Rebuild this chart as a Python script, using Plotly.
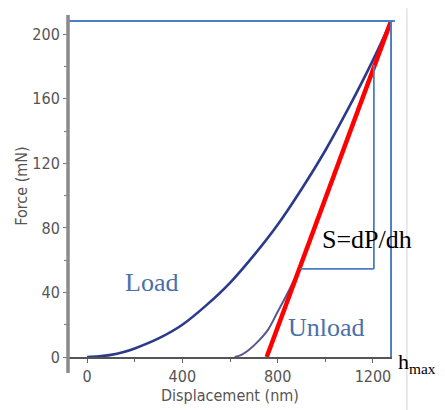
import plotly.graph_objects as go

# Data
load_x = [0, 50, 100, 150, 200, 300, 400, 500, 600, 700, 800, 900, 1000, 1100, 1200, 1276]
load_f = [0, 0.4, 1.3, 2.9, 5.3, 11.5, 20, 32, 46, 63, 82, 104, 128, 155, 184, 208.3]

unload_x = [620, 650, 680, 720, 760, 800, 850, 900, 950, 1000, 1050, 1100, 1150, 1200, 1276]
unload_f = [0, 1.5, 4.5, 10, 17, 28, 42, 58, 78, 98, 118, 138, 159, 179, 208.3]

tangent_x = [754, 1276]
tangent_f = [0, 208.3]

x_ticks = [0, 400, 800, 1200]
y_ticks = [0, 40, 80, 120, 160, 200]

h_max = 1276
p_max = 208.3
tri_x = [895, 1204]
tri_f = [54.6, 181]

FONT = "DejaVu Sans Condensed, DejaVu Sans, sans-serif"
SERIF = "Liberation Serif, Times New Roman, serif"
BOX = "#4a7ec4"

fig = go.Figure()

fig.add_trace(go.Scatter(x=load_x, y=load_f, mode="lines", line=dict(color="#2c3a8c", width=2.6, shape="spline"),
                         hoverinfo="skip", showlegend=False, cliponaxis=False))
fig.add_trace(go.Scatter(x=unload_x, y=unload_f, mode="lines", line=dict(color="#58588e", width=2, shape="spline"),
                         hoverinfo="skip", showlegend=False))
fig.add_trace(go.Scatter(x=tangent_x, y=tangent_f, mode="lines", line=dict(color="#ff0000", width=4.5),
                         hoverinfo="skip", showlegend=False, cliponaxis=False))

shapes = [
    dict(type="line", xref="paper", yref="y", x0=0, x1=1.009, y0=p_max, y1=p_max, line=dict(color=BOX, width=2)),
    dict(type="line", xref="x", yref="y", x0=h_max, x1=h_max, y0=0, y1=p_max, line=dict(color=BOX, width=2)),
    dict(type="line", xref="x", yref="y", x0=tri_x[1], x1=tri_x[1], y0=tri_f[0], y1=tri_f[1], line=dict(color=BOX, width=1.8)),
    dict(type="line", xref="x", yref="y", x0=tri_x[0], x1=tri_x[1], y0=tri_f[0], y1=tri_f[0], line=dict(color=BOX, width=1.8)),
    dict(type="line", xref="paper", yref="paper", x0=0, x1=0, y0=-0.047, y1=1.0, line=dict(color="#8a8a8a", width=3.5)),
    dict(type="line", xref="paper", yref="paper", x0=1.046, x1=1.046, y0=-0.16, y1=1.02, line=dict(color="#e2e2e2", width=1.5)),
]

annotations = [
    dict(x=272, y=46, xref="x", yref="y", text="Load", showarrow=False,
         font=dict(family=SERIF, size=26, color="#4a6faa")),
    dict(x=1175, y=73, xref="x", yref="y", text="S=dP/dh", showarrow=False,
         font=dict(family=SERIF, size=26, color="#000000")),
    dict(x=1007, y=18, xref="x", yref="y", text="Unload", showarrow=False,
         font=dict(family=SERIF, size=26, color="#4a6faa")),
    dict(x=1.016, y=0, xref="paper", yref="paper", text="h<sub>max</sub>", showarrow=False,
         xanchor="left", yanchor="middle", yshift=-6, borderpad=0,
         font=dict(family=SERIF, size=22, color="#000000")),
]

# figure is placed by the page at an 8px body margin, so size/margins compensate
fig.update_layout(
    width=437, height=402,
    margin=dict(l=60, r=53, t=7, b=53),
    paper_bgcolor="white", plot_bgcolor="white",
    shapes=shapes, annotations=annotations,
    xaxis=dict(range=[-80, 1280], tickvals=x_ticks, ticktext=[str(v) for v in x_ticks], automargin=False,
               showgrid=False, zeroline=False, showline=True, linecolor="#555555", linewidth=1.5,
               ticks="outside", ticklen=4, tickcolor="#666666",
               minor=dict(tickvals=[200, 600, 1000], ticks="outside", ticklen=3, tickcolor="#666666"),
               tickfont=dict(family=FONT, size=16, color="#555555"),
               title=dict(text="Displacement (nm)", font=dict(family=FONT, size=16, color="#555555"), standoff=0)),
    yaxis=dict(range=[0, 212], tickvals=y_ticks, ticktext=[str(v) for v in y_ticks], automargin=False,
               showgrid=False, zeroline=False, showline=False,
               ticks="outside", ticklen=4, tickcolor="#777777",
               minor=dict(tickvals=[20, 60, 100, 140, 180], ticks="outside", ticklen=3, tickcolor="#777777"),
               tickfont=dict(family=FONT, size=16, color="#555555"),
               title=dict(text="Force (mN)", font=dict(family=FONT, size=16, color="#555555"), standoff=0)),
)

fig.write_html("out.html")
